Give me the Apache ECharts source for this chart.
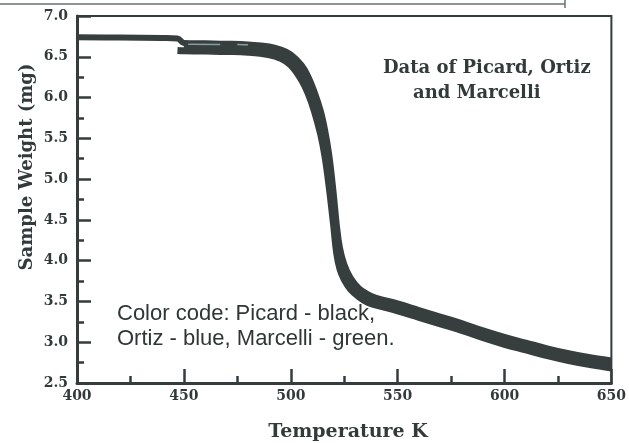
<!DOCTYPE html>
<html>
<head>
<meta charset="utf-8">
<script src="https://cdn.jsdelivr.net/npm/echarts@6/dist/echarts.min.js"></script>
<style>
html,body{margin:0;padding:0;background:#fff;}
#chart{width:629px;height:443px;}
</style>
</head>
<body>
<div id="chart"></div>
<script>
// ---- data ----
var xTicks = [400, 450, 500, 550, 600, 650];
var yTicks = [2.5, 3.0, 3.5, 4.0, 4.5, 5.0, 5.5, 6.0, 6.5, 7.0];

var picardT = [400, 420, 440, 447, 450, 460, 470, 480, 490, 495, 500, 505, 508, 511, 514, 516, 518, 520, 521.5, 523, 525, 528, 532, 536, 540, 550, 560, 570, 580, 590, 600, 610, 620, 630, 640, 650];
var picardW = [6.74, 6.735, 6.73, 6.725, 6.67, 6.665, 6.66, 6.65, 6.625, 6.59, 6.53, 6.40, 6.27, 6.08, 5.84, 5.61, 5.30, 4.85, 4.45, 4.16, 3.96, 3.79, 3.66, 3.59, 3.545, 3.475, 3.395, 3.315, 3.235, 3.145, 3.065, 2.995, 2.925, 2.865, 2.815, 2.775];

var ortizT = [447, 450, 460, 470, 480, 490, 495, 500, 505, 508, 511, 514, 516, 518, 520, 521.5, 523, 525, 528, 532, 536, 540, 550, 560, 570, 580, 590, 600, 610, 620, 630, 640, 650];
var ortizW = [6.578, 6.575, 6.57, 6.565, 6.555, 6.525, 6.485, 6.40, 6.22, 6.06, 5.84, 5.55, 5.28, 4.90, 4.45, 4.09, 3.90, 3.77, 3.65, 3.555, 3.49, 3.455, 3.385, 3.305, 3.225, 3.145, 3.055, 2.975, 2.905, 2.835, 2.775, 2.725, 2.685];

var marcelliT = [450, 460, 470, 480, 490, 495, 500, 505, 508, 511, 514, 516, 518, 520, 521.5, 523, 525, 528, 532, 536, 540, 550, 560, 570, 580, 590, 600, 610, 620, 630, 640, 650];
var marcelliW = [6.62, 6.615, 6.61, 6.60, 6.57, 6.53, 6.46, 6.31, 6.17, 5.97, 5.70, 5.45, 5.11, 4.62, 4.25, 4.02, 3.86, 3.72, 3.61, 3.545, 3.50, 3.43, 3.35, 3.27, 3.19, 3.10, 3.02, 2.95, 2.88, 2.82, 2.77, 2.73];

// faint visible strip of the blue (Ortiz) trace inside the band
var ortizStripT = [452, 467, 469, 475, 478, 480];
var ortizStripW = [6.655, 6.652, null, 6.65, 6.648, 6.647];

var curveColor = '#363f3e';
var axisColor = '#353d3c';

function pairs(xs, ys) {
  return xs.map(function (x, i) { return [x, ys[i] === null ? '-' : ys[i]]; });
}

var chart = echarts.init(document.getElementById('chart'), null, {renderer: 'canvas'});

var labelStyle = {
  fontFamily: 'DejaVu Serif',
  fontWeight: 'bold',
  fontSize: 14,
  color: '#333b3a'
};

var option = {
  backgroundColor: '#ffffff',
  animation: false,
  grid: {
    left: 77, right: 9, top: 16, bottom: 60,
    show: true, borderColor: axisColor, borderWidth: 2, backgroundColor: 'transparent'
  },
  xAxis: {
    type: 'value',
    min: xTicks[0], max: xTicks[xTicks.length - 1], interval: 50,
    axisLine: {show: true, onZero: false, lineStyle: {color: axisColor, width: 3}},
    axisTick: {show: true, inside: true, length: 14, lineStyle: {color: axisColor, width: 2.5}},
    minorTick: {show: true, splitNumber: 2, length: 7, lineStyle: {color: axisColor, width: 2.5}},
    splitLine: {show: false},
    axisLabel: Object.assign({margin: 6, showMinLabel: true, showMaxLabel: true,
      formatter: function (v) { return String(Math.round(v)); }}, labelStyle)
  },
  yAxis: {
    type: 'value',
    min: yTicks[0], max: yTicks[yTicks.length - 1], interval: 0.5,
    axisLine: {show: true, onZero: false, lineStyle: {color: axisColor, width: 3}},
    axisTick: {show: true, inside: true, length: 14, lineStyle: {color: axisColor, width: 2.5}},
    minorTick: {show: true, splitNumber: 2, length: 7, lineStyle: {color: axisColor, width: 2.5}},
    splitLine: {show: false},
    axisLabel: Object.assign({margin: 9, showMinLabel: true, showMaxLabel: true,
      formatter: function (v) { return v.toFixed(1); }}, labelStyle)
  },
  series: [
    {
      name: 'Picard', type: 'line', data: pairs(picardT, picardW),
      showSymbol: false, smooth: 0.4,
      lineStyle: {color: curveColor, width: 6, join: 'round'}, z: 3
    },
    {
      name: 'Ortiz', type: 'line', data: pairs(ortizT, ortizW),
      showSymbol: false, smooth: 0.4,
      lineStyle: {color: curveColor, width: 7, join: 'round'}, z: 3
    },
    {
      name: 'Marcelli', type: 'line', data: pairs(marcelliT, marcelliW),
      showSymbol: false, smooth: 0.4,
      lineStyle: {color: curveColor, width: 7, join: 'round'}, z: 3
    },
    {
      name: 'Ortiz strip', type: 'line', data: pairs(ortizStripT, ortizStripW),
      showSymbol: false, connectNulls: false,
      lineStyle: {color: '#8a9ca3', width: 1.5}, z: 4
    }
  ],
  graphic: [
    {type: 'line', shape: {x1: 0, y1: 4, x2: 565, y2: 4}, style: {stroke: '#6a7170', lineWidth: 1.5}, silent: true},
    {type: 'line', shape: {x1: 565, y1: 0, x2: 565, y2: 8}, style: {stroke: '#6a7170', lineWidth: 1.5}, silent: true},
    {type: 'text', left: 383, top: 59,
      style: {text: 'Data of Picard, Ortiz', font: 'bold 18px "DejaVu Serif"', fill: '#333b3a'}},
    {type: 'text', left: 413, top: 84,
      style: {text: 'and Marcelli', font: 'bold 18px "DejaVu Serif"', fill: '#333b3a'}},
    {type: 'text', left: 117, top: 303,
      style: {text: 'Color code: Picard - black,', font: '22px "Liberation Sans"', fill: '#2f3635'}},
    {type: 'text', left: 117, top: 328,
      style: {text: 'Ortiz - blue, Marcelli - green.', font: '22px "Liberation Sans"', fill: '#2f3635'}},
    {type: 'text', x: 348, y: 432,
      style: {text: 'Temperature K', font: 'bold 19px "DejaVu Serif"', fill: '#333b3a',
        textAlign: 'center', textVerticalAlign: 'middle'}},
    {type: 'text', x: 27, y: 167, rotation: Math.PI / 2,
      style: {text: 'Sample Weight (mg)', font: 'bold 18px "DejaVu Serif"', fill: '#333b3a',
        textAlign: 'center', textVerticalAlign: 'middle'}}
  ]
};

chart.setOption(option);
</script>
</body>
</html>
